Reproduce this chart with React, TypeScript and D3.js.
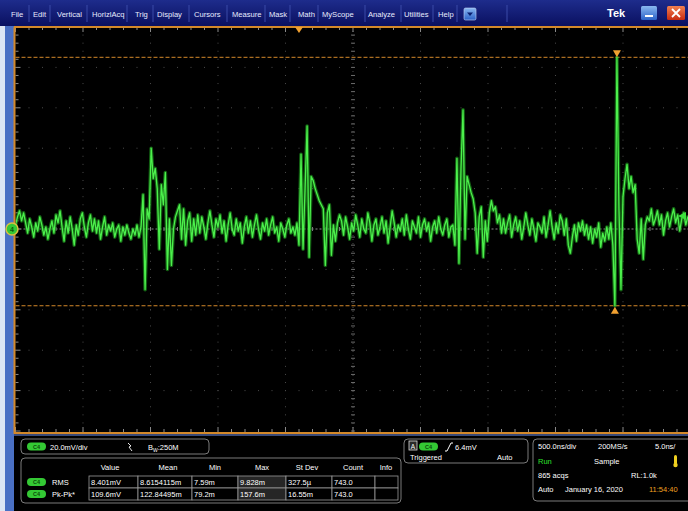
import React from 'react';
import * as d3 from 'd3';

// ---------- data ----------
const SAMPLE_NS = 15;
const TIME_SPAN_NS = 5000;
const MV_PER_DIV = 20;
const NS_PER_DIV = 500;
const triggerTimeNs = 2100;
const triggerLevelMv = 6.4;

// channel 4 trace, mV, one value every SAMPLE_NS
const traceMv = [
  2, 6, 9, 4, 8, 3, -2, 5, 1, -4, 3, -1, 6, 2, -3, 1, -5, 0, 4, -2,
  7, 3, 9, 1, -6, 4, -2, 6, 0, -8, 2, -3, 5, 8, 1, -4, 3, 7, -1, 5,
  -2, 4, -5, 1, 6, -3, 2, -1, 3, -4, 0, 2, -6, 1, -3, 2, -2, -5, 0, -3,
  2, -4, 1,
  17, -30, 10, 5, 40, 25, 30, 20, -10, 22, 12, 28, -20, 5, -18, 0, 6, 9, 12, -5, 10, -8, 4, 8, -6, 5, -3, 7,
  -2, 6, 1, -5, 3, 9, 2, -4, 5, 1, 7, -2, 4, -6, 2, 8, 0, -3, 5, -1,
  3, -7, 1, 6, -2, 4, -4, 2, 7, 0, -5, 3, -1, 5, -3, 2, 6, -2, 1, -6,
  3, 0, -4, 2, 5, -2, 1, -3,
  3, -8, 37, -10, 20, 51, -14, 26, 24, 20, 17, 14, 12, 10, -18, 8, 12, -13, 2, -6, 3, 7,
  4, -3, 6, 1, -5, 3, -1, 7, 2, -4, 5, 0, -2, 8, 3, -6, 2, 5, -3, 1,
  6, -2, 4, -7, 1, 9, 3, -4, 2, -1, 5, -3, 7, 0, -5, 4, 1, -2, 6, -4,
  2, 5, -1, 3, -6, 1, 4, -2, 6, 0, -3, 2, 5, -4, 1,
  2, -8, 35, -17, 30, 59, -5, 26, 22, 18, 15, 8, -12, 6, 11, -14, 4, -6, 8, 14, 9, 11, 3, 7, -2,
  5, -2, 3, 7, -4, 2, 6, -1, 4, -5, 1, 8, 2, -3, 5, 0, -6, 3, 1, -2,
  6, -4, 2, 9, 1, -5, 3, -2, 7, 4, -3, 5, -8, -12, -4, 2, -6, 3, -1, 4,
  -3, 2, -5, 1, -7, 0, -4, 3, -9, -2, -6, 1,
  -5, 3, -8, -38, 85, 10, -30, 16, 25, 32, 20, 26, 18, 22, -5, -12, 5, -15, 2, 6, 4, 10, 2,
  5, 9, 2, 7, -3, 4, 8, 1, 6, 10, 3, 7, -1, 5, 8, 2, 6, 4,
];

const menuLabels = ['File', 'Edit', 'Vertical', 'HorizlAcq', 'Trig', 'Display', 'Cursors', 'Measure', 'Mask', 'Math', 'MyScope', 'Analyze', 'Utilities', 'Help'];
const measHeaders = ['Value', 'Mean', 'Min', 'Max', 'St Dev', 'Count', 'Info'];
const measNames = ['RMS', 'Pk-Pk*'];
const rmsValues = ['8.401mV', '8.6154115m', '7.59m', '9.828m', '327.5µ', '743.0', ''];
const pkpkValues = ['109.6mV', '122.84495m', '79.2m', '157.6m', '16.55m', '743.0', ''];
const channelLabel = 'C4';
const channelScale = '20.0mV/div';
const bandwidth = ':250M';
const triggerLevelText = '6.4mV';
const horizText = { scale: '500.0ns/div', rate: '200MS/s', res: '5.0ns/', state: 'Run', mode: 'Sample', acqs: '865 acqs', rl: 'RL:1.0k', trig: 'Auto', date: 'January 16, 2020', time: '11:54:40' };

// ---------- layout ----------
const W = 688, H = 511;
const PL = 15.5, PR = 690.5, PT = 27, PB = 431;
const FONT = 'Liberation Sans, Arial, sans-serif';
const ORANGE = '#d4892a';

const menuX = [11, 33, 57, 92, 135, 157, 194, 232, 269, 298, 322, 368, 404, 438];
const sepX = [29, 50, 87, 127, 153, 189, 227, 265, 290, 318, 365, 401, 433, 457, 507];
const colEdges = [89, 138, 192, 238, 286, 332, 375, 398];
const headerCenters = [110, 168, 215, 262, 307, 353, 386];

function Pill({ x, y }: { x: number; y: number }) {
  return (
    <g>
      <rect x={x} y={y} width={19} height={8} rx={4} fill="#34c834" />
      <text x={x + 9.5} y={y + 6.2} fontSize={5.5} fill="#0b4d0b" textAnchor="middle" fontFamily={FONT} fontWeight="bold">{channelLabel}</text>
    </g>
  );
}

export default function App() {
  const x = d3.scaleLinear().domain([0, TIME_SPAN_NS]).range([PL, PR]);
  const y = d3.scaleLinear().domain([-5 * MV_PER_DIV, 5 * MV_PER_DIV]).range([PB, PT]);
  const line = d3.line<number>().x((_, i) => x(i * SAMPLE_NS)).y((d) => y(d));
  const tracePath = line(traceMv) || '';

  const maxV = d3.max(traceMv) as number;
  const minV = d3.min(traceMv) as number;
  const maxX = x(traceMv.indexOf(maxV) * SAMPLE_NS);
  const minX = x(traceMv.indexOf(minV) * SAMPLE_NS);

  const majorT = d3.range(0, TIME_SPAN_NS + 1, NS_PER_DIV);
  const majorV = d3.range(-5 * MV_PER_DIV, 5 * MV_PER_DIV + 1, MV_PER_DIV);
  const minorT = d3.range(0, TIME_SPAN_NS + 1, NS_PER_DIV / 5);
  const minorV = d3.range(-5 * MV_PER_DIV, 5 * MV_PER_DIV + 0.01, MV_PER_DIV / 5);

  const dots: JSX.Element[] = [];
  majorT.forEach((t, k) => {
    if (k === 0 || k === 10 || k === 5) return;
    minorV.forEach((v, j) => dots.push(<rect key={`dv${k}-${j}`} x={x(t) - 0.5} y={y(v) - 0.5} width={1} height={1} fill="#4a4a4a" />));
  });
  majorV.forEach((v, k) => {
    if (k === 0 || k === 10 || k === 5) return;
    minorT.forEach((t, j) => dots.push(<rect key={`dh${k}-${j}`} x={x(t) - 0.5} y={y(v) - 0.5} width={1} height={1} fill="#4a4a4a" />));
  });

  const cx = x(TIME_SPAN_NS / 2);
  const cy = y(0);

  const tx = x(triggerTimeNs);
  const tl = y(triggerLevelMv);

  return (
    <svg width={W} height={H} style={{ position: 'absolute', left: 0, top: 0, background: '#000' }} fontFamily={FONT}>
      <defs>
        <linearGradient id="menuGrad" x1="0" y1="0" x2="0" y2="1">
          <stop offset="0" stopColor="#1e2c8c" />
          <stop offset="1" stopColor="#0a1060" />
        </linearGradient>
        <linearGradient id="btnBlue" x1="0" y1="0" x2="0" y2="1">
          <stop offset="0" stopColor="#8ab8f0" />
          <stop offset="1" stopColor="#2a62c8" />
        </linearGradient>
        <linearGradient id="btnRed" x1="0" y1="0" x2="0" y2="1">
          <stop offset="0" stopColor="#f08050" />
          <stop offset="1" stopColor="#c82a10" />
        </linearGradient>
        <clipPath id="plotClip">
          <rect x={PL} y={PT} width={W - PL} height={PB - PT + 1} />
        </clipPath>
      </defs>

      {/* background */}
      <rect x={0} y={0} width={W} height={H} fill="#000" />
      {/* left strip */}
      <rect x={0} y={24} width={5} height={H - 24} fill="#dde6f4" />
      <rect x={5} y={24} width={9} height={H - 24} fill="#4a70c4" />

      {/* menu bar */}
      <rect x={0} y={0} width={W} height={26} fill="url(#menuGrad)" />
      {menuLabels.map((m, i) => (
        <text key={m} x={menuX[i]} y={16.5} fontSize={7.6} fill="#e8ecff">{m}</text>
      ))}
      {sepX.map((s, i) => (
        <line key={i} x1={s} x2={s} y1={5} y2={22} stroke="#3b4aa8" strokeWidth={1} />
      ))}
      <rect x={464} y={8} width={12} height={12} rx={1.5} fill="url(#btnBlue)" stroke="#c8d8f8" strokeWidth={0.6} />
      <path d="M467,12.5 L473,12.5 L470,16 Z" fill="#0a2070" />
      <text x={607} y={17} fontSize={11} fontWeight="bold" fill="#fff">Tek</text>
      <rect x={641} y={6} width={16} height={14} rx={1.5} fill="url(#btnBlue)" />
      <rect x={645} y={15} width={8} height={2} fill="#fff" />
      <rect x={667} y={6} width={18} height={14} rx={1.5} fill="url(#btnRed)" />
      <path d="M672,9 L680,17 M680,9 L672,17" stroke="#fff" strokeWidth={1.8} />

      {/* plot grid */}
      <g>{dots}</g>
      {/* center lines */}
      <line x1={PL} x2={W} y1={cy} y2={cy} stroke="#8a8a8a" strokeWidth={1} strokeDasharray="2,2" />
      <line x1={cx} x2={cx} y1={PT} y2={PB} stroke="#4a4a4a" strokeWidth={1} strokeDasharray="1,3" />
      {minorT.map((t, i) => (
        <line key={`ct${i}`} x1={x(t)} x2={x(t)} y1={cy - 2} y2={cy + 2} stroke="#7a7a7a" strokeWidth={1} />
      ))}
      {minorV.map((v, i) => (
        <line key={`cv${i}`} x1={cx - 2} x2={cx + 2} y1={y(v)} y2={y(v)} stroke="#6a6a6a" strokeWidth={1} />
      ))}
      {/* border ticks */}
      {minorT.map((t, i) => (
        <g key={`bt${i}`}>
          <line x1={x(t)} x2={x(t)} y1={PT} y2={PT + (i % 5 === 0 ? 5 : 3)} stroke="#8a8a8a" strokeWidth={1} />
          <line x1={x(t)} x2={x(t)} y1={PB + 1} y2={PB + 1 - (i % 5 === 0 ? 5 : 3)} stroke="#8a8a8a" strokeWidth={1} />
        </g>
      ))}
      {minorV.map((v, i) => (
        <line key={`bl${i}`} x1={PL} x2={PL + (i % 5 === 0 ? 5 : 3)} y1={y(v)} y2={y(v)} stroke="#8a8a8a" strokeWidth={1} />
      ))}

      {/* cursors at max / min */}
      <line x1={PL} x2={W} y1={y(maxV)} y2={y(maxV)} stroke={ORANGE} strokeWidth={1} strokeDasharray="4,2" />
      <line x1={PL} x2={W} y1={y(minV)} y2={y(minV)} stroke={ORANGE} strokeWidth={1} strokeDasharray="4,2" />

      {/* trace */}
      <g clipPath="url(#plotClip)">
        <path d={tracePath} fill="none" stroke="#1f9e1f" strokeWidth={3.6} strokeOpacity={0.6} strokeLinejoin="round" />
        <path d={tracePath} fill="none" stroke="#4cf04c" strokeWidth={1.3} strokeLinejoin="round" />
      </g>

      {/* cursor markers */}
      <path d={`M${maxX - 4},${y(maxV) - 7} L${maxX + 4},${y(maxV) - 7} L${maxX},${y(maxV)} Z`} fill="#f0a030" />
      <path d={`M${minX - 4},${y(minV) + 8} L${minX + 4},${y(minV) + 8} L${minX},${y(minV) + 1} Z`} fill="#f0a030" />

      {/* frame */}
      <line x1={14} x2={W} y1={PT} y2={PT} stroke={ORANGE} strokeWidth={2} />
      <line x1={14.5} x2={14.5} y1={PT} y2={434} stroke={ORANGE} strokeWidth={2} />
      <line x1={14} x2={W} y1={433} y2={433} stroke={ORANGE} strokeWidth={2} />
      <rect x={14} y={434} width={W - 14} height={2} fill="#3a4a78" />

      {/* trigger position marker */}
      <path d={`M${tx - 4},27 L${tx + 4},27 L${tx},33 Z`} fill="#f0a030" />
      {/* trigger level marker */}
      <path d={`M678,${tl} L686,${tl - 4} L686,${tl + 4} Z`} fill="#3ce03c" />
      {/* ground marker */}
      <circle cx={12} cy={cy} r={6} fill="#34c834" stroke="#d8c040" strokeWidth={1.5} />
      <text x={12} y={cy + 2.5} fontSize={7} fill="#0a5a0a" textAnchor="middle" fontWeight="bold">4</text>

      {/* bottom panel: channel box */}
      <rect x={21} y={439} width={188} height={15} rx={4} fill="#000" stroke="#7a7a7a" strokeWidth={1} />
      <Pill x={27} y={442.5} />
      <text x={50} y={449.5} fontSize={7.5} fill="#fff">{channelScale}</text>
      <path d="M128,443 L131,446 L129,447 L132,451" fill="none" stroke="#fff" strokeWidth={0.9} />
      <text x={148} y={449.5} fontSize={7.5} fill="#fff">B<tspan dy={2} fontSize={5}>W</tspan><tspan dy={-2}>{bandwidth}</tspan></text>

      {/* measurement table */}
      <rect x={21} y={458} width={380} height={45} rx={4} fill="#000" stroke="#7a7a7a" strokeWidth={1} />
      {measHeaders.map((h, i) => (
        <text key={h} x={headerCenters[i]} y={470} fontSize={7.5} fill="#fff" textAnchor="middle">{h}</text>
      ))}
      {[rmsValues, pkpkValues].map((row, r) => {
        const top = 476 + r * 12;
        return (
          <g key={r}>
            <Pill x={27} y={top + 2} />
            <text x={52} y={top + 8.8} fontSize={7.5} fill="#fff">{measNames[r]}</text>
            {row.map((v, c) => (
              <g key={c}>
                <rect x={colEdges[c]} y={top} width={colEdges[c + 1] - colEdges[c]} height={12} fill={c === 3 ? '#262626' : '#000'} stroke="#9a9a9a" strokeWidth={0.8} />
                <text x={colEdges[c] + 2} y={top + 8.8} fontSize={7.5} fill="#fff">{v}</text>
              </g>
            ))}
          </g>
        );
      })}

      {/* trigger box */}
      <rect x={404} y={439} width={124} height={24} rx={4} fill="#000" stroke="#7a7a7a" strokeWidth={1} />
      <rect x={409} y={441} width={8} height={9} fill="#2a2a2a" stroke="#ddd" strokeWidth={0.8} />
      <text x={413} y={448.5} fontSize={6.5} fill="#fff" textAnchor="middle">A</text>
      <Pill x={419} y={442.5} />
      <path d="M445,451 h2 l4,-8 h2" fill="none" stroke="#fff" strokeWidth={1} />
      <text x={455} y={449.5} fontSize={7.5} fill="#fff">{triggerLevelText}</text>
      <text x={410} y={460} fontSize={7.5} fill="#fff">Triggered</text>
      <text x={497} y={460} fontSize={7.5} fill="#fff">Auto</text>

      {/* horizontal / acquisition box */}
      <rect x={533} y={439} width={160} height={62} rx={4} fill="#000" stroke="#7a7a7a" strokeWidth={1} />
      <text x={538} y={448.5} fontSize={7.5} fill="#fff">{horizText.scale}</text>
      <text x={598} y={448.5} fontSize={7.5} fill="#fff">{horizText.rate}</text>
      <text x={655} y={448.5} fontSize={7.5} fill="#fff">{horizText.res}</text>
      <text x={538} y={464} fontSize={7.5} fill="#2ee02e">{horizText.state}</text>
      <text x={594} y={464} fontSize={7.5} fill="#fff">{horizText.mode}</text>
      <rect x={674} y={455} width={3} height={9} rx={1.5} fill="#f0d020" />
      <circle cx={675.5} cy={465} r={2.2} fill="#f0d020" />
      <text x={538} y={478} fontSize={7.5} fill="#fff">{horizText.acqs}</text>
      <text x={631} y={478} fontSize={7.5} fill="#fff">{horizText.rl}</text>
      <text x={538} y={492} fontSize={7.5} fill="#fff">{horizText.trig}</text>
      <text x={565} y={492} fontSize={7.5} fill="#fff">{horizText.date}</text>
      <text x={649} y={492} fontSize={7.5} fill="#f0a020">{horizText.time}</text>
    </svg>
  );
}
